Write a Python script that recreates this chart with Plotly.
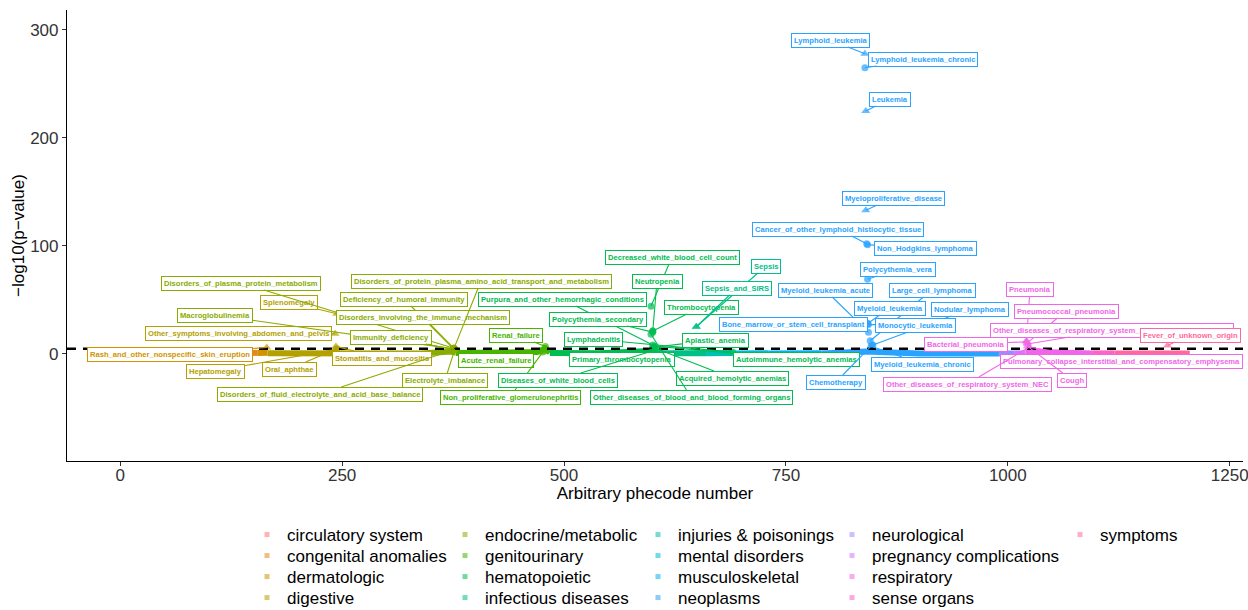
import math
import plotly.graph_objects as go

# ---------------- data ----------------
groups = ["circulatory system", "congenital anomalies", "dermatologic", "digestive",
          "endocrine/metabolic", "genitourinary", "hematopoietic", "infectious diseases",
          "injuries & poisonings", "mental disorders", "musculoskeletal", "neoplasms",
          "neurological", "pregnancy complications", "respiratory", "sense organs", "symptoms"]

# non-significant background points per group (phecode order, -log10 p), read approximately
band_x = {
    "circulatory system": [0, 60, 146],
    "congenital anomalies": [146, 155],
    "dermatologic": [155, 161, 166],
    "digestive": [166, 200, 240, 270, 300],
    "endocrine/metabolic": [300, 340, 372, 378],
    "genitourinary": [378, 430, 470, 479, 484],
    "hematopoietic": [484, 540, 595, 605],
    "infectious diseases": [605, 640, 660],
    "injuries & poisonings": [660, 690],
    "mental disorders": [690, 730],
    "musculoskeletal": [730, 790],
    "neoplasms": [790, 840, 900, 990],
    "neurological": [990, 1008],
    "pregnancy complications": [1008, 1020],
    "respiratory": [1020, 1060, 1095],
    "sense organs": [1095, 1120],
    "symptoms": [1120, 1160, 1205],
}
band_y = {
    "circulatory system": [0.6, 0.8, 0.6],
    "congenital anomalies": [0.8, 0.8],
    "dermatologic": [0.6, 1.4, 0.8],
    "digestive": [0.5, 0.4, 1.6, 0.5, 0.3],
    "endocrine/metabolic": [0.3, 0.2, 2.0, 1.0],
    "genitourinary": [0.6, 0.8, 1.5, 5.0, 1.0],
    "hematopoietic": [0.7, 0.4, 2.5, 0.5],
    "infectious diseases": [0.5, 1.0, 0.4],
    "injuries & poisonings": [0.4, 0.6],
    "mental disorders": [0.3, 0.4],
    "musculoskeletal": [0.3, 0.4],
    "neoplasms": [0.3, 2.0, 0.2, 0.2],
    "neurological": [0.2, 0.3],
    "pregnancy complications": [0.3, 0.5],
    "respiratory": [2.0, 0.5, 0.3],
    "sense organs": [0.3, 0.3],
    "symptoms": [0.3, 0.4, 0.3],
}

# labelled phenotypes
pheno = ["Rash_and_other_nonspecific_skin_eruption",
         "Other_symptoms_involving_abdomen_and_pelvis", "Splenomegaly", "Hepatomegaly",
         "Oral_aphthae", "Stomatitis_and_mucositis",
         "Disorders_of_plasma_protein_metabolism", "Macroglobulinemia",
         "Deficiency_of_humoral_immunity", "Disorders_involving_the_immune_mechanism",
         "Immunity_deficiency", "Disorders_of_protein_plasma_amino_acid_transport_and_metabolism",
         "Electrolyte_imbalance", "Disorders_of_fluid_electrolyte_and_acid_base_balance",
         "Renal_failure", "Acute_renal_failure", "Non_proliferative_glomerulonephritis",
         "Decreased_white_blood_cell_count", "Neutropenia", "Purpura_and_other_hemorrhagic_conditions",
         "Thrombocytopenia", "Polycythemia_secondary", "Lymphadenitis", "Aplastic_anemia",
         "Primary_thrombocytopenia", "Diseases_of_white_blood_cells", "Autoimmune_hemolytic_anemias",
         "Acquired_hemolytic_anemias", "Other_diseases_of_blood_and_blood_forming_organs",
         "Sepsis", "Sepsis_and_SIRS",
         "Lymphoid_leukemia", "Lymphoid_leukemia_chronic", "Leukemia", "Myeloproliferative_disease",
         "Cancer_of_other_lymphoid_histiocytic_tissue", "Non_Hodgkins_lymphoma", "Polycythemia_vera",
         "Myeloid_leukemia_acute", "Large_cell_lymphoma", "Myeloid_leukemia", "Nodular_lymphoma",
         "Bone_marrow_or_stem_cell_transplant", "Monocytic_leukemia", "Myeloid_leukemia_chronic",
         "Chemotherapy",
         "Pneumonia", "Pneumococcal_pneumonia",
         "Other_diseases_of_respiratory_system_not_elsewhere_classified", "Bacterial_pneumonia",
         "Pulmonary_collapse_interstitial_and_compensatory_emphysema", "Cough",
         "Other_diseases_of_respiratory_system_NEC",
         "Fever_of_unknown_origin"]
pheno_group = (["dermatologic"] + ["digestive"] * 5 + ["endocrine/metabolic"] * 8 +
               ["genitourinary"] * 3 + ["hematopoietic"] * 12 + ["infectious diseases"] * 2 +
               ["neoplasms"] * 15 + ["respiratory"] * 7 + ["symptoms"])
phecode_x = [165,
             242, 244, 243, 244, 243,
             376, 376, 375, 376, 375, 376, 377, 377,
             479, 478, 476,
             598, 600, 600, 600, 600, 690, 601, 602, 605, 602, 600, 598,
             649, 649,
             839, 839, 840, 840, 841, 842, 842, 843, 845, 842, 848, 842, 843, 846, 847,
             1021, 1022, 1022, 1021, 1024, 1022, 1024,
             1180]
neglog10p = [5.8,
             18.5, 37.0, 4.0, 4.5, 6.8,
             5.0, 4.5, 5.0, 5.0, 4.0, 5.0, 4.0, 4.0,
             6.8, 3.0, 1.5,
             44.0, 21.0, 8.0, 21.0, 20.0, 1.5, 6.0, 5.0, 4.0, 7.0, 6.0, 18.0,
             25.0, 25.0,
             278.0, 265.0, 225.0, 133.0, 102.0, 101.0, 69.0, 20.0, 12.0, 28.0, 8.0, 28.0, 27.0, 7.0, 8.0,
             12.0, 10.0, 9.0, 11.0, 6.0, 7.0, 6.0,
             7.7]
direction = ["up",
             "up", "up", "none", "none", "up",
             "none", "none", "none", "none", "none", "none", "none", "none",
             "none", "none", "none",
             "none", "none", "none", "none", "none", "none", "none", "none", "none", "none", "none", "none",
             "up", "up",
             "up", "none", "up", "up", "none", "none", "none", "none", "none", "none", "none", "none", "none", "none", "none",
             "up", "up", "up", "up", "up", "up", "up",
             "up"]
threshold = 4.6

# ---------------- layout helpers (label box centres in screen px) ----------------
label_px = [(170, 354),
            (238, 333), (289, 302), (215, 371), (289, 369), (382, 358),
            (241, 283), (215, 315), (404, 299), (423, 317), (391, 337), (481, 281), (445, 380), (320, 394),
            (516, 335), (496, 360), (510, 397),
            (672, 257), (657, 281), (562, 299), (701, 307), (598, 319), (593, 339), (715, 340),
            (622, 359), (558, 380), (796, 359), (732, 378), (691, 397),
            (766, 266), (737, 288),
            (830, 40), (923, 59), (890, 99), (893, 198), (838, 229), (925, 248), (898, 269),
            (825, 290), (932, 290), (890, 308), (970, 309), (793, 324), (915, 325), (922, 364), (836, 382),
            (1030, 289), (1066, 311), (1112, 330), (966, 344), (1121, 361), (1072, 380), (967, 384),
            (1190, 335)]

W, H = 1248, 610
ML, MR, MT, MB = 67, 5, 10, 149
XR = [-60, 1265]
YR = [-99.4, 318.5]
PW, PH = W - ML - MR, H - MT - MB


def px2x(px):
    return XR[0] + (px - ML) / PW * (XR[1] - XR[0])


def px2y(py):
    return YR[1] - (py - MT) / PH * (YR[1] - YR[0])


def hcl(h, c=100.0, l=65.0):
    hr = math.radians(h)
    U, V = c * math.cos(hr), c * math.sin(hr)
    Y = 100.0 * (((l + 16) / 116) ** 3 if l > 7.999592 else l / 903.3)
    Xn, Yn, Zn = 95.047, 100.0, 108.883
    den = Xn + 15 * Yn + 3 * Zn
    un, vn = 4 * Xn / den, 9 * Yn / den
    u, v = U / (13 * l) + un, V / (13 * l) + vn
    X = 9.0 * Y * u / (4 * v)
    Z = -X / 3 - 5 * Y + 3 * Y / v
    x, y, z = X / 100, Y / 100, Z / 100
    rgb = [3.240479 * x - 1.537150 * y - 0.498535 * z,
           -0.969256 * x + 1.875992 * y + 0.041556 * z,
           0.055648 * x - 0.204043 * y + 1.057311 * z]
    out = []
    for t in rgb:
        t = 12.92 * t if t <= 0.0031308 else 1.055 * t ** (1 / 2.4) - 0.055
        out.append(int(round(min(max(t, 0), 1) * 255)))
    return "#%02X%02X%02X" % tuple(out)


n = len(groups)
colors = {g: hcl(15 + i * 360.0 / n) for i, g in enumerate(groups)}

FONT = "Liberation Sans, Arial, Helvetica, sans-serif"
fig = go.Figure()

# background bands
for g in groups:
    fig.add_trace(go.Scatter(x=band_x[g], y=band_y[g], mode="lines",
                             line=dict(color=colors[g], width=6), showlegend=False,
                             hoverinfo="skip"))

# labelled points
for g in groups:
    idx = [i for i, pg in enumerate(pheno_group) if pg == g]
    if not idx:
        continue
    fig.add_trace(go.Scatter(
        x=[phecode_x[i] for i in idx], y=[neglog10p[i] for i in idx], mode="markers",
        marker=dict(color=colors[g],
                    symbol=["triangle-up" if direction[i] == "up" else "circle" for i in idx],
                    size=[8 if direction[i] == "up" else 7 for i in idx], line=dict(width=0)),
        text=[pheno[i] for i in idx], showlegend=False))

# legend: one small legend per entry, laid out column-major like ggplot (4 rows x 5 cols)
col_text_px = [287, 485, 678, 872, 1100]
row_center_px = [535, 556, 577, 598]
for k, g in enumerate(groups):
    lname = "legend" if k == 0 else "legend%d" % (k + 1)
    col, row = k // 4, k % 4
    fig.add_trace(go.Scatter(x=[None], y=[None], mode="markers", name=g,
                             marker=dict(color=colors[g], symbol="square", size=5, opacity=0.55),
                             legend=lname, showlegend=True))
    fig.update_layout({lname: dict(x=(col_text_px[col] - 40 - ML) / PW,
                                   y=(MT + PH - (row_center_px[row] - 18)) / PH,
                                   xanchor="left", yanchor="top", orientation="v",
                                   bgcolor="rgba(0,0,0,0)",
                                   font=dict(family=FONT, size=17, color="black"),
                                   itemwidth=30)})

# threshold line
fig.add_shape(type="line", xref="paper", x0=0, x1=1, yref="y", y0=threshold, y1=threshold,
              line=dict(color="black", width=2.6, dash="9px,7px"), layer="above")

# repel-style labels
for i, name in enumerate(pheno):
    c = colors[pheno_group[i]]
    bx, by = label_px[i]
    fig.add_annotation(x=phecode_x[i], y=neglog10p[i], xref="x", yref="y",
                       ax=px2x(bx), ay=px2y(by), axref="x", ayref="y",
                       text="<b>%s</b>" % name, showarrow=True, arrowhead=0, arrowwidth=1.1,
                       arrowcolor=c, standoff=0, startstandoff=0,
                       font=dict(family=FONT, size=7.6, color=c), bgcolor="white",
                       bordercolor=c, borderwidth=1, borderpad=2)

fig.update_layout(
    width=W, height=H, margin=dict(l=ML, r=MR, t=MT, b=MB, autoexpand=False),
    plot_bgcolor="white", paper_bgcolor="white",
    font=dict(family=FONT, size=17, color="black"),
    xaxis=dict(range=XR, tickvals=[0, 250, 500, 750, 1000, 1250], showgrid=False, zeroline=False,
               showline=True, linecolor="black", linewidth=1.2, ticks="outside", ticklen=4,
               tickcolor="#333", tickfont=dict(size=17, color="#333"), ticklabeloverflow="allow",
               ticklabelstandoff=-6,
               title=dict(text="Arbitrary phecode number", standoff=3, font=dict(size=17))),
    yaxis=dict(range=YR, tickvals=[0, 100, 200, 300], showgrid=False, zeroline=False,
               showline=True, linecolor="black", linewidth=1.2, ticks="outside", ticklen=4,
               tickcolor="#333", tickfont=dict(size=17, color="#333"),
               title=dict(text="−log10(p−value)", standoff=1, font=dict(size=17))),
)

fig.write_html("out.html")
